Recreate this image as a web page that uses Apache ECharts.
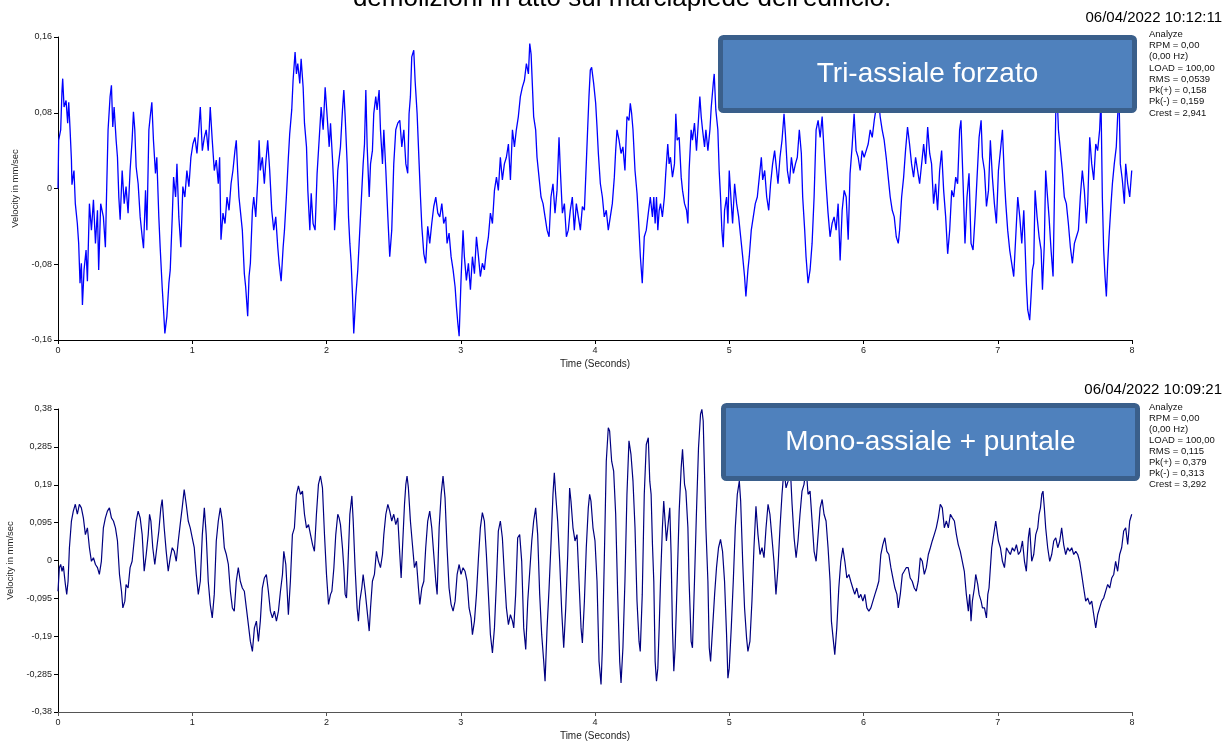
<!DOCTYPE html>
<html><head><meta charset="utf-8">
<script src="https://cdn.jsdelivr.net/npm/echarts@6/dist/echarts.min.js"></script>
<style>html,body{margin:0;padding:0;background:#fff}#c{width:1228px;height:742px}</style>
</head><body><div id="c"></div>
<script>
// ---------- data ----------
const timeRange = [0, 8];
const timeStep = 1;
const topYRange = [-0.16, 0.16];
const topYStep = 0.08;
const botYRange = [-0.38, 0.38];
const botYStep = 0.095;

const topTitle = "Tri-assiale forzato";
const botTitle = "Mono-assiale + puntale";
const pageTitle = "demolizioni in atto sul marciapiede dell'edificio.";
const topDate = "06/04/2022 10:12:11";
const botDate = "06/04/2022 10:09:21";
const topStats = ["Analyze","RPM = 0,00","(0,00 Hz)","LOAD = 100,00","RMS = 0,0539","Pk(+) = 0,158","Pk(-) = 0,159","Crest = 2,941"];
const botStats = ["Analyze","RPM = 0,00","(0,00 Hz)","LOAD = 100,00","RMS = 0,115","Pk(+) = 0,379","Pk(-) = 0,313","Crest = 3,292"];

// Tri-assiale forzato: [time s, velocity mm/s]
const topSignal = [
[0,0],[0.005,0.051],[0.02,0.062],[0.03,0.104],[0.035,0.116],[0.045,0.086],[0.06,0.093],[0.072,0.069],[0.08,0.091],[0.09,0.062],[0.1,0.03],[0.104,0.004],[0.119,0.019],[0.129,-0.016],[0.144,-0.037],[0.154,-0.058],[0.164,-0.1],[0.174,-0.079],[0.182,-0.123],[0.194,-0.086],[0.209,-0.065],[0.219,-0.098],[0.234,-0.016],[0.249,-0.044],[0.264,-0.012],[0.279,-0.058],[0.294,-0.023],[0.303,-0.086],[0.318,-0.016],[0.338,-0.03],[0.353,-0.062],[0.363,0.002],[0.373,0.062],[0.388,0.097],[0.398,0.109],[0.408,0.065],[0.418,0.086],[0.433,0.051],[0.443,0.033],[0.453,-0.009],[0.463,-0.033],[0.478,0.019],[0.493,-0.016],[0.507,0.002],[0.522,-0.026],[0.537,0.019],[0.552,0.051],[0.562,0.081],[0.572,0.062],[0.582,0.023],[0.597,0.005],[0.612,-0.03],[0.627,-0.051],[0.637,-0.063],[0.652,-0.002],[0.662,-0.044],[0.677,0.062],[0.687,0.076],[0.699,0.091],[0.711,0.051],[0.726,0.016],[0.736,0.033],[0.751,-0.03],[0.761,-0.062],[0.776,-0.104],[0.786,-0.128],[0.796,-0.153],[0.811,-0.135],[0.826,-0.1],[0.836,-0.086],[0.851,-0.03],[0.861,0.012],[0.876,-0.009],[0.886,0.026],[0.9,-0.03],[0.915,-0.062],[0.93,0.002],[0.945,-0.009],[0.96,0.019],[0.975,0.002],[0.99,0.033],
[1.005,0.047],[1.02,0.054],[1.035,0.037],[1.05,0.065],[1.06,0.086],[1.075,0.04],[1.09,0.054],[1.104,0.062],[1.119,0.04],[1.134,0.086],[1.149,0.051],[1.164,0.019],[1.179,0.03],[1.194,0.005],[1.204,0.033],[1.214,-0.054],[1.229,-0.026],[1.244,-0.037],[1.259,-0.009],[1.274,-0.023],[1.289,0.005],[1.303,0.019],[1.318,0.04],[1.328,0.051],[1.338,0.019],[1.348,-0.009],[1.363,-0.03],[1.373,-0.044],[1.388,-0.09],[1.398,-0.104],[1.413,-0.135],[1.423,-0.093],[1.433,-0.079],[1.448,-0.023],[1.458,-0.009],[1.473,-0.03],[1.488,0.009],[1.498,0.051],[1.507,0.019],[1.522,0.033],[1.537,0.005],[1.547,0.026],[1.562,0.051],[1.577,0.019],[1.592,-0.023],[1.607,-0.044],[1.622,-0.03],[1.637,-0.062],[1.647,-0.079],[1.662,-0.098],[1.677,-0.062],[1.687,-0.044],[1.701,-0.009],[1.716,0.033],[1.726,0.058],[1.741,0.083],[1.751,0.114],[1.766,0.144],[1.776,0.121],[1.786,0.132],[1.801,0.111],[1.811,0.137],[1.826,0.107],[1.836,0.069],[1.851,0.044],[1.861,-0.002],[1.876,-0.044],[1.886,-0.005],[1.9,-0.037],[1.915,-0.044],[1.93,0.016],[1.945,0.051],[1.96,0.086],[1.975,0.062],[1.99,0.107],[2.005,0.076],[2.02,0.044],
[2.03,0.069],[2.045,0.03],[2.055,-0.002],[2.06,-0.044],[2.074,-0.016],[2.084,0.019],[2.104,0.044],[2.119,0.083],[2.129,0.104],[2.139,0.076],[2.154,0.026],[2.164,-0.03],[2.174,-0.058],[2.184,-0.079],[2.194,-0.114],[2.203,-0.153],[2.218,-0.114],[2.233,-0.086],[2.248,-0.044],[2.263,-0.002],[2.273,0.026],[2.283,0.047],[2.293,0.104],[2.303,0.044],[2.318,-0.009],[2.328,0.026],[2.342,0.04],[2.352,0.079],[2.367,0.097],[2.377,0.083],[2.392,0.104],[2.402,0.062],[2.417,0.026],[2.427,0.062],[2.442,0.019],[2.457,-0.03],[2.471,-0.072],[2.486,-0.044],[2.501,0.026],[2.516,0.062],[2.531,0.069],[2.546,0.072],[2.561,0.044],[2.576,0.062],[2.591,0.026],[2.605,0.016],[2.615,0.079],[2.625,0.097],[2.635,0.139],[2.65,0.146],[2.66,0.114],[2.675,0.079],[2.69,0.026],[2.7,-0.009],[2.71,-0.04],[2.725,-0.069],[2.739,-0.079],[2.754,-0.04],[2.769,-0.058],[2.784,-0.037],[2.799,-0.019],[2.814,-0.009],[2.829,-0.026],[2.844,-0.03],[2.859,-0.016],[2.873,-0.037],[2.888,-0.03],[2.898,-0.058],[2.913,-0.047],[2.928,-0.072],[2.943,-0.086],[2.958,-0.104],[2.968,-0.125],[2.978,-0.142],[2.988,-0.156],
[3.002,-0.097],[3.017,-0.044],[3.027,-0.072],[3.042,-0.097],[3.057,-0.079],[3.072,-0.107],[3.087,-0.072],[3.102,-0.09],[3.117,-0.051],[3.132,-0.072],[3.146,-0.093],[3.161,-0.079],[3.176,-0.086],[3.191,-0.065],[3.206,-0.051],[3.221,-0.026],[3.236,-0.037],[3.251,-0.002],[3.266,0.012],[3.28,-0.002],[3.295,0.033],[3.31,0.009],[3.325,0.026],[3.34,0.033],[3.355,0.047],[3.37,0.009],[3.385,0.062],[3.4,0.044],[3.414,0.062],[3.429,0.076],[3.444,0.097],[3.459,0.107],[3.474,0.114],[3.489,0.132],[3.504,0.121],[3.514,0.153],[3.524,0.142],[3.533,0.111],[3.543,0.076],[3.558,0.062],[3.568,0.033],[3.583,0.012],[3.598,-0.009],[3.613,-0.016],[3.628,-0.03],[3.643,-0.044],[3.658,-0.051],[3.672,-0.009],[3.687,0.005],[3.702,-0.026],[3.717,-0.002],[3.732,0.054],[3.742,0.019],[3.757,-0.026],[3.772,-0.016],[3.787,-0.051],[3.801,-0.044],[3.816,-0.023],[3.831,-0.009],[3.846,-0.044],[3.861,-0.016],[3.876,-0.03],[3.891,-0.044],[3.906,-0.019],[3.921,-0.023],[3.935,0.026],[3.945,0.062],[3.955,0.097],[3.965,0.125],[3.975,0.128],[3.99,0.111],
[4.005,0.09],[4.015,0.065],[4.025,0.037],[4.04,0.005],[4.055,-0.009],[4.069,-0.03],[4.084,-0.023],[4.099,-0.044],[4.114,-0.03],[4.129,-0.016],[4.144,0.012],[4.154,0.04],[4.164,0.062],[4.179,0.051],[4.194,0.037],[4.208,0.044],[4.223,0.019],[4.238,0.076],[4.253,0.072],[4.263,0.09],[4.273,0.079],[4.283,0.062],[4.298,0.019],[4.313,-0.005],[4.323,-0.03],[4.338,-0.072],[4.352,-0.1],[4.367,-0.051],[4.382,-0.044],[4.397,-0.026],[4.412,-0.009],[4.428,-0.03],[4.438,-0.009],[4.448,-0.037],[4.458,-0.009],[4.468,-0.044],[4.478,-0.023],[4.488,-0.016],[4.502,-0.03],[4.517,-0.009],[4.527,0.016],[4.542,0.047],[4.552,0.026],[4.562,0.033],[4.577,0.012],[4.592,0.026],[4.602,0.079],[4.612,0.051],[4.627,0.054],[4.642,0.012],[4.652,-0.002],[4.667,-0.016],[4.682,-0.023],[4.692,-0.037],[4.701,0.019],[4.716,0.062],[4.726,0.051],[4.741,0.069],[4.756,0.04],[4.766,0.062],[4.781,0.097],[4.791,0.076],[4.801,0.062],[4.816,0.044],[4.826,0.062],[4.841,0.04],[4.856,0.062],[4.866,0.086],[4.881,0.111],[4.888,0.121],[4.9,0.083],[4.915,0.062],[4.925,0.019],[4.935,-0.009],[4.945,-0.044],[4.955,-0.062],[4.965,-0.023],[4.98,-0.009],[4.99,-0.037],
[5,0.019],[5.015,-0.016],[5.025,-0.037],[5.04,0.005],[5.055,-0.016],[5.07,-0.03],[5.085,-0.051],[5.1,-0.072],[5.114,-0.093],[5.124,-0.114],[5.139,-0.086],[5.149,-0.072],[5.164,-0.044],[5.179,-0.03],[5.194,-0.016],[5.209,-0.009],[5.224,0.012],[5.239,0.033],[5.249,0.009],[5.264,0.019],[5.279,-0.009],[5.294,-0.023],[5.308,0.005],[5.323,0.026],[5.338,0.04],[5.348,0.026],[5.363,0.005],[5.378,0.033],[5.393,0.051],[5.408,0.079],[5.418,0.058],[5.433,0.019],[5.448,0.005],[5.463,0.033],[5.478,0.016],[5.493,0.026],[5.507,0.033],[5.522,0.062],[5.537,0.037],[5.547,-0.009],[5.562,-0.044],[5.572,-0.072],[5.587,-0.1],[5.602,-0.086],[5.617,-0.058],[5.632,-0.009],[5.647,0.062],[5.662,0.072],[5.677,0.054],[5.692,0.076],[5.706,0.04],[5.721,0.005],[5.736,-0.026],[5.751,-0.051],[5.766,-0.037],[5.781,-0.03],[5.796,-0.044],[5.811,-0.016],[5.826,-0.076],[5.841,-0.023],[5.856,-0.002],[5.871,-0.009],[5.886,-0.054],[5.9,0.016],[5.915,0.044],[5.93,0.079],[5.945,0.04],[5.96,0.033],[5.975,0.019],[5.99,0.04],
[6.005,0.033],[6.02,0.04],[6.035,0.047],[6.05,0.062],[6.065,0.054],[6.08,0.072],[6.095,0.086],[6.109,0.098],[6.124,0.076],[6.139,0.062],[6.154,0.051],[6.169,0.033],[6.184,0.012],[6.199,-0.009],[6.214,-0.023],[6.229,-0.03],[6.244,-0.051],[6.259,-0.058],[6.269,-0.044],[6.284,-0.009],[6.299,0.012],[6.313,0.04],[6.328,0.065],[6.343,0.047],[6.358,0.026],[6.373,0.012],[6.388,0.033],[6.403,0.019],[6.418,0.005],[6.433,0.026],[6.448,0.047],[6.463,0.026],[6.478,0.065],[6.493,0.037],[6.507,0.026],[6.522,-0.016],[6.537,0.005],[6.552,-0.023],[6.567,0.019],[6.582,0.04],[6.597,-0.002],[6.612,-0.03],[6.627,-0.069],[6.642,-0.044],[6.657,-0.002],[6.672,-0.009],[6.687,0.012],[6.701,0.005],[6.716,0.062],[6.726,0.072],[6.741,0.009],[6.756,-0.058],[6.771,-0.009],[6.786,0.016],[6.801,-0.058],[6.816,-0.065],[6.831,-0.03],[6.846,0.012],[6.861,0.054],[6.876,0.072],[6.886,0.033],[6.901,0.019],[6.916,-0.019],[6.931,-0.002],[6.945,0.051],[6.96,0.012],[6.975,-0.016],[6.99,-0.037],
[7.005,0.019],[7.02,0.04],[7.035,0.062],[7.05,0.009],[7.06,-0.016],[7.074,-0.044],[7.089,-0.065],[7.104,-0.079],[7.119,-0.093],[7.134,-0.051],[7.149,-0.009],[7.164,-0.03],[7.179,-0.058],[7.194,-0.023],[7.203,-0.058],[7.213,-0.1],[7.223,-0.128],[7.238,-0.139],[7.248,-0.114],[7.258,-0.086],[7.268,-0.079],[7.278,-0.002],[7.293,-0.03],[7.308,-0.051],[7.323,-0.065],[7.333,-0.107],[7.347,-0.058],[7.357,0.019],[7.367,-0.002],[7.382,-0.03],[7.397,-0.065],[7.412,-0.093],[7.422,-0.009],[7.432,0.079],[7.442,0.1],[7.452,0.062],[7.467,0.04],[7.481,0.019],[7.496,-0.009],[7.511,-0.016],[7.526,-0.037],[7.541,-0.062],[7.556,-0.079],[7.571,-0.058],[7.586,-0.051],[7.601,-0.044],[7.615,-0.009],[7.63,0.019],[7.645,-0.002],[7.66,-0.037],[7.67,-0.016],[7.685,0.054],[7.7,0.026],[7.715,0.009],[7.73,0.047],[7.744,0.04],[7.759,0.062],[7.769,0.095],[7.779,-0.009],[7.789,-0.065],[7.799,-0.093],[7.809,-0.114],[7.819,-0.079],[7.829,-0.051],[7.844,-0.016],[7.854,0.005],[7.868,0.026],[7.883,0.044],[7.893,0.076],[7.903,0.1],[7.913,0.026],[7.928,0.009],[7.943,-0.016],[7.953,0.026],[7.968,0.005],[7.983,-0.009],[7.998,0.019]
];

// Mono-assiale + puntale: [time s, velocity mm/s]
const botSignal = [
[0,-0.077],[0.01,-0.018],[0.02,-0.01],[0.03,-0.027],[0.04,-0.014],[0.055,-0.06],[0.065,-0.085],[0.075,-0.052],[0.085,0.032],[0.1,0.099],[0.114,0.124],[0.129,0.141],[0.144,0.116],[0.159,0.141],[0.174,0.132],[0.189,0.107],[0.204,0.065],[0.219,0.082],[0.234,0.032],[0.249,-0.002],[0.264,0.007],[0.279,-0.01],[0.294,-0.018],[0.308,-0.035],[0.323,-0.002],[0.338,0.082],[0.353,0.107],[0.368,0.124],[0.383,0.132],[0.398,0.107],[0.413,0.099],[0.428,0.082],[0.443,0.049],[0.458,-0.035],[0.473,-0.077],[0.483,-0.119],[0.498,-0.102],[0.507,-0.06],[0.522,-0.069],[0.537,-0.018],[0.552,-0.002],[0.567,0.049],[0.582,0.099],[0.597,0.124],[0.612,0.107],[0.627,0.065],[0.642,-0.027],[0.657,0.015],[0.672,0.065],[0.682,0.116],[0.692,0.099],[0.706,0.032],[0.721,-0.01],[0.736,0.032],[0.751,0.074],[0.766,0.132],[0.776,0.153],[0.791,0.082],[0.806,0.023],[0.821,-0.027],[0.836,0.007],[0.851,0.032],[0.866,0.023],[0.881,-0.002],[0.896,0.049],[0.91,0.09],[0.925,0.132],[0.94,0.178],[0.955,0.141],[0.97,0.099],[0.985,0.082],
[1,0.057],[1.015,0.032],[1.03,-0.035],[1.045,-0.085],[1.06,-0.052],[1.075,0.065],[1.09,0.132],[1.104,0.065],[1.119,-0.052],[1.134,-0.11],[1.149,-0.144],[1.164,-0.085],[1.179,0.049],[1.194,0.099],[1.209,0.132],[1.224,0.099],[1.239,0.032],[1.254,0.015],[1.269,-0.01],[1.284,-0.077],[1.299,-0.119],[1.313,-0.127],[1.328,-0.052],[1.343,-0.018],[1.358,-0.052],[1.373,-0.069],[1.388,-0.077],[1.403,-0.119],[1.418,-0.161],[1.433,-0.203],[1.448,-0.228],[1.463,-0.169],[1.478,-0.152],[1.493,-0.203],[1.507,-0.152],[1.522,-0.069],[1.537,-0.044],[1.552,-0.035],[1.567,-0.077],[1.582,-0.127],[1.597,-0.144],[1.612,-0.127],[1.627,-0.152],[1.642,-0.127],[1.657,-0.077],[1.672,-0.035],[1.682,0.023],[1.697,-0.01],[1.716,-0.136],[1.731,-0.052],[1.746,0.065],[1.761,0.082],[1.776,0.166],[1.791,0.187],[1.806,0.166],[1.821,0.174],[1.836,0.116],[1.851,0.082],[1.866,0.09],[1.881,0.065],[1.896,0.04],[1.91,0.023],[1.925,0.116],[1.94,0.191],[1.955,0.212],[1.97,0.182],[1.985,0.065],
[2,-0.035],[2.015,-0.11],[2.03,-0.085],[2.04,-0.077],[2.055,-0.018],[2.069,0.065],[2.084,0.116],[2.094,0.107],[2.104,0.09],[2.119,0.032],[2.129,-0.018],[2.139,-0.085],[2.149,-0.094],[2.159,-0.018],[2.174,0.116],[2.189,0.162],[2.199,0.099],[2.213,-0.018],[2.228,-0.119],[2.238,-0.152],[2.248,-0.102],[2.263,-0.069],[2.273,-0.035],[2.288,-0.077],[2.303,-0.127],[2.318,-0.177],[2.328,-0.119],[2.342,-0.052],[2.357,-0.035],[2.372,0.023],[2.387,-0.002],[2.402,-0.018],[2.417,0.015],[2.427,0.065],[2.442,0.116],[2.457,0.141],[2.471,0.124],[2.486,0.099],[2.501,0.116],[2.516,0.09],[2.531,0.107],[2.546,0.015],[2.556,-0.044],[2.566,0.032],[2.581,0.141],[2.591,0.191],[2.6,0.212],[2.61,0.182],[2.625,0.099],[2.64,0.04],[2.655,-0.018],[2.67,-0.002],[2.685,-0.069],[2.695,-0.11],[2.71,-0.069],[2.725,-0.052],[2.739,0.032],[2.754,0.099],[2.769,0.124],[2.784,0.082],[2.799,0.015],[2.814,-0.052],[2.824,-0.085],[2.839,0.082],[2.854,0.166],[2.868,0.212],[2.883,0.157],[2.898,0.032],[2.913,-0.069],[2.928,-0.11],[2.943,-0.127],[2.958,-0.102],[2.973,-0.035],[2.988,-0.01],
[3.002,-0.035],[3.017,-0.018],[3.032,-0.027],[3.047,-0.052],[3.062,-0.119],[3.077,-0.144],[3.087,-0.186],[3.102,-0.152],[3.117,-0.085],[3.132,0.007],[3.146,0.082],[3.161,0.12],[3.176,0.099],[3.191,0.015],[3.206,-0.085],[3.221,-0.186],[3.236,-0.232],[3.251,-0.169],[3.266,-0.052],[3.28,0.074],[3.295,0.099],[3.31,0.057],[3.325,-0.035],[3.34,-0.119],[3.355,-0.161],[3.37,-0.136],[3.385,-0.152],[3.395,-0.169],[3.409,-0.085],[3.424,0.057],[3.439,0.065],[3.454,-0.002],[3.469,-0.169],[3.484,-0.223],[3.499,-0.102],[3.514,-0.027],[3.529,0.049],[3.543,0.099],[3.558,0.132],[3.573,0.065],[3.588,-0.085],[3.603,-0.186],[3.618,-0.253],[3.628,-0.303],[3.643,-0.169],[3.658,-0.069],[3.672,0.04],[3.687,0.166],[3.697,0.22],[3.707,0.166],[3.722,0.099],[3.737,-0.002],[3.752,-0.127],[3.767,-0.219],[3.782,-0.119],[3.797,0.015],[3.811,0.182],[3.821,0.149],[3.836,0.082],[3.851,0.049],[3.866,0.065],[3.881,-0.052],[3.896,-0.169],[3.906,-0.207],[3.921,-0.102],[3.935,0.032],[3.95,0.132],[3.96,0.166],[3.97,0.149],[3.985,0.082],
[4,0.049],[4.015,-0.052],[4.03,-0.253],[4.045,-0.311],[4.055,-0.219],[4.069,-0.002],[4.084,0.249],[4.099,0.333],[4.109,0.325],[4.124,0.249],[4.139,0.224],[4.154,0.116],[4.169,-0.085],[4.184,-0.253],[4.194,-0.307],[4.208,-0.219],[4.223,-0.052],[4.238,0.166],[4.253,0.3],[4.268,0.266],[4.283,0.199],[4.298,0.082],[4.313,-0.102],[4.328,-0.203],[4.337,-0.228],[4.352,-0.085],[4.367,0.166],[4.382,0.291],[4.397,0.308],[4.408,0.199],[4.418,0.166],[4.428,0.04],[4.438,-0.052],[4.448,-0.253],[4.458,-0.303],[4.468,-0.27],[4.478,-0.169],[4.488,-0.052],[4.502,0.082],[4.512,0.149],[4.522,0.099],[4.532,0.049],[4.547,0.099],[4.557,0.132],[4.567,0.015],[4.577,-0.169],[4.587,-0.278],[4.597,-0.219],[4.612,-0.052],[4.627,0.124],[4.642,0.233],[4.652,0.279],[4.667,0.191],[4.677,0.174],[4.692,0.082],[4.701,-0.052],[4.716,-0.203],[4.726,-0.219],[4.741,-0.052],[4.756,0.124],[4.771,0.283],[4.786,0.367],[4.796,0.379],[4.806,0.35],[4.816,0.216],[4.826,0.082],[4.841,-0.052],[4.851,-0.219],[4.861,-0.253],[4.876,-0.169],[4.891,-0.085],[4.905,-0.018],[4.92,0.032],[4.935,0.053],[4.95,0.023],[4.965,-0.052],[4.98,-0.186],[4.99,-0.295],
[5,-0.27],[5.015,-0.169],[5.03,-0.052],[5.045,0.082],[5.06,0.166],[5.075,0.199],[5.085,0.149],[5.1,-0.002],[5.114,-0.119],[5.129,-0.194],[5.139,-0.228],[5.154,-0.203],[5.169,-0.102],[5.184,0.032],[5.199,0.136],[5.214,0.065],[5.229,0.015],[5.244,0.032],[5.259,0.007],[5.274,0.082],[5.289,0.141],[5.303,0.116],[5.318,0.057],[5.333,-0.002],[5.348,-0.085],[5.363,-0.018],[5.378,0.082],[5.393,0.166],[5.408,0.23],[5.423,0.182],[5.438,0.199],[5.453,0.245],[5.468,0.141],[5.483,0.057],[5.498,0.007],[5.512,0.049],[5.527,0.116],[5.542,0.174],[5.557,0.191],[5.572,0.235],[5.587,0.166],[5.602,0.174],[5.617,0.099],[5.632,0.023],[5.647,-0.002],[5.662,0.065],[5.677,0.132],[5.692,0.153],[5.706,0.116],[5.721,0.099],[5.736,0.032],[5.751,-0.052],[5.761,-0.152],[5.776,-0.203],[5.786,-0.236],[5.801,-0.169],[5.816,-0.069],[5.831,-0.002],[5.846,0.032],[5.861,-0.002],[5.876,-0.044],[5.891,-0.035],[5.905,-0.052],[5.92,-0.069],[5.935,-0.085],[5.95,-0.069],[5.965,-0.094],[5.98,-0.085],[5.995,-0.102],
[6.01,-0.085],[6.025,-0.119],[6.04,-0.127],[6.055,-0.119],[6.07,-0.102],[6.085,-0.085],[6.1,-0.069],[6.114,-0.052],[6.129,0.015],[6.144,0.04],[6.159,0.057],[6.174,0.023],[6.189,0.015],[6.204,-0.018],[6.219,-0.044],[6.234,-0.069],[6.249,-0.085],[6.259,-0.119],[6.274,-0.085],[6.289,-0.035],[6.303,-0.027],[6.318,-0.018],[6.333,-0.018],[6.348,-0.044],[6.363,-0.052],[6.378,-0.069],[6.393,-0.077],[6.408,-0.052],[6.423,0.007],[6.438,-0.002],[6.453,-0.035],[6.468,-0.018],[6.483,0.015],[6.498,0.032],[6.512,0.049],[6.527,0.065],[6.542,0.082],[6.557,0.107],[6.572,0.141],[6.587,0.132],[6.602,0.082],[6.617,0.099],[6.632,0.082],[6.647,0.116],[6.662,0.107],[6.677,0.099],[6.692,0.065],[6.706,0.04],[6.721,0.023],[6.736,-0.002],[6.751,-0.027],[6.766,-0.085],[6.781,-0.127],[6.791,-0.085],[6.801,-0.152],[6.811,-0.102],[6.826,-0.069],[6.836,-0.035],[6.851,-0.06],[6.861,-0.085],[6.876,-0.102],[6.886,-0.119],[6.901,-0.119],[6.916,-0.144],[6.926,-0.085],[6.935,-0.069],[6.945,-0.018],[6.955,0.032],[6.97,0.065],[6.985,0.099],[6.995,0.103],
[7.005,0.049],[7.02,0.032],[7.035,-0.002],[7.05,-0.018],[7.065,0.032],[7.079,0.023],[7.094,0.015],[7.109,0.032],[7.124,0.023],[7.139,0.04],[7.154,0.015],[7.169,0.023],[7.184,0.049],[7.199,-0.002],[7.213,-0.027],[7.228,0.057],[7.238,0.082],[7.253,-0.002],[7.268,0.015],[7.283,0.065],[7.298,0.082],[7.308,0.116],[7.318,0.132],[7.328,0.166],[7.337,0.174],[7.347,0.132],[7.357,0.082],[7.372,0.032],[7.387,-0.002],[7.402,0.015],[7.417,0.049],[7.432,0.057],[7.447,0.032],[7.462,0.049],[7.476,0.082],[7.491,0.04],[7.506,0.015],[7.521,0.032],[7.536,0.023],[7.551,0.032],[7.566,0.015],[7.581,0.023],[7.596,0.015],[7.61,-0.002],[7.625,-0.035],[7.64,-0.069],[7.655,-0.102],[7.67,-0.094],[7.685,-0.11],[7.7,-0.102],[7.715,-0.136],[7.73,-0.169],[7.744,-0.136],[7.759,-0.119],[7.774,-0.102],[7.789,-0.094],[7.804,-0.077],[7.819,-0.06],[7.834,-0.069],[7.849,-0.044],[7.864,-0.035],[7.878,-0.002],[7.893,-0.027],[7.908,0.015],[7.923,0.032],[7.938,0.074],[7.953,0.082],[7.968,0.04],[7.983,0.099],[7.998,0.116]
];

// ---------- chart ----------
const FONT = '"Liberation Sans", Arial, sans-serif';
function fmt(v) {
  const r = Math.round(v * 1000) / 1000;
  if (r === 0) return '0';
  return String(r).replace('.', ',');
}
function xAxisCfg(idx, lineColor) {
  return {
    type: 'value', gridIndex: idx, position: 'bottom', min: timeRange[0], max: timeRange[1], interval: timeStep,
    name: 'Time (Seconds)', nameLocation: 'middle', nameGap: 19,
    nameTextStyle: { fontFamily: FONT, fontSize: 10, color: '#222' },
    axisLine: { show: true, onZero: false, lineStyle: { color: lineColor, width: 1 } },
    axisTick: { show: true, length: 4, lineStyle: { color: lineColor } },
    axisLabel: { fontFamily: FONT, fontSize: 9, color: '#222', margin: 6, formatter: fmt },
    splitLine: { show: false }
  };
}
function yAxisCfg(idx, range, step, gap) {
  return {
    type: 'value', gridIndex: idx, position: 'left', min: range[0], max: range[1], interval: step,
    name: 'Velocity in mm/sec', nameLocation: 'middle', nameGap: gap, nameRotate: 90,
    nameTextStyle: { fontFamily: FONT, fontSize: 9.5, color: '#222' },
    axisLine: { show: true, onZero: false, lineStyle: { color: '#000', width: 1 } },
    axisTick: { show: true, length: 4, lineStyle: { color: '#000' } },
    axisLabel: { fontFamily: FONT, fontSize: 9, color: '#222', margin: 6, formatter: fmt },
    splitLine: { show: false }
  };
}
function statTexts(lines, x, y0, dy) {
  return lines.map((s, i) => ({
    type: 'text', z: 110, x: x, y: y0 + i * dy,
    style: { text: s, font: '9.5px ' + FONT, fill: '#111', align: 'left', verticalAlign: 'middle', textAlign: 'left', textVerticalAlign: 'middle' }
  }));
}
function box(x, y, w, h, label) {
  return [
    { type: 'rect', z: 100, shape: { x: x, y: y, width: w, height: h, r: 3 },
      style: { fill: '#4F81BD', stroke: '#3A5F8B', lineWidth: 5 } },
    { type: 'text', z: 105, x: x + w / 2, y: y + h / 2,
      style: { text: label, font: '28px ' + FONT, fill: '#fff', align: 'center', verticalAlign: 'middle', textAlign: 'center', textVerticalAlign: 'middle' } }
  ];
}

const chart = echarts.init(document.getElementById('c'), null, { renderer: 'canvas' });
chart.setOption({
  animation: false,
  backgroundColor: '#fff',
  grid: [
    { left: 58, top: 37, width: 1074, height: 303, containLabel: false, outerBoundsMode: 'none' },
    { left: 58, top: 409, width: 1074, height: 303, containLabel: false, outerBoundsMode: 'none' }
  ],
  xAxis: [xAxisCfg(0, '#000'), xAxisCfg(1, '#555')],
  yAxis: [yAxisCfg(0, topYRange, topYStep, 30), yAxisCfg(1, botYRange, botYStep, 34)],
  series: [
    { type: 'line', xAxisIndex: 0, yAxisIndex: 0, data: topSignal, showSymbol: false, symbol: 'none',
      lineStyle: { color: '#0000FF', width: 1.3 }, clip: true, silent: true },
    { type: 'line', xAxisIndex: 1, yAxisIndex: 1, data: botSignal, showSymbol: false, symbol: 'none',
      lineStyle: { color: '#000080', width: 1.2 }, clip: true, silent: true }
  ],
  graphic: [
    { type: 'text', z: 110, x: 622, y: 12,
      style: { text: pageTitle, font: '26px ' + FONT, fill: '#000', align: 'center', verticalAlign: 'bottom', textAlign: 'center', textVerticalAlign: 'bottom' } },
    { type: 'text', z: 110, x: 1222, y: 18,
      style: { text: topDate, font: '15px ' + FONT, fill: '#000', align: 'right', verticalAlign: 'middle', textAlign: 'right', textVerticalAlign: 'middle' } },
    { type: 'text', z: 110, x: 1222, y: 390,
      style: { text: botDate, font: '15px ' + FONT, fill: '#000', align: 'right', verticalAlign: 'middle', textAlign: 'right', textVerticalAlign: 'middle' } },
    ...box(720.5, 37.5, 414, 73, topTitle),
    ...box(723.5, 405.5, 414, 73, botTitle),
    ...statTexts(topStats, 1149, 34, 11.3),
    ...statTexts(botStats, 1149, 407, 11.1)
  ]
});
</script>
</body></html>
